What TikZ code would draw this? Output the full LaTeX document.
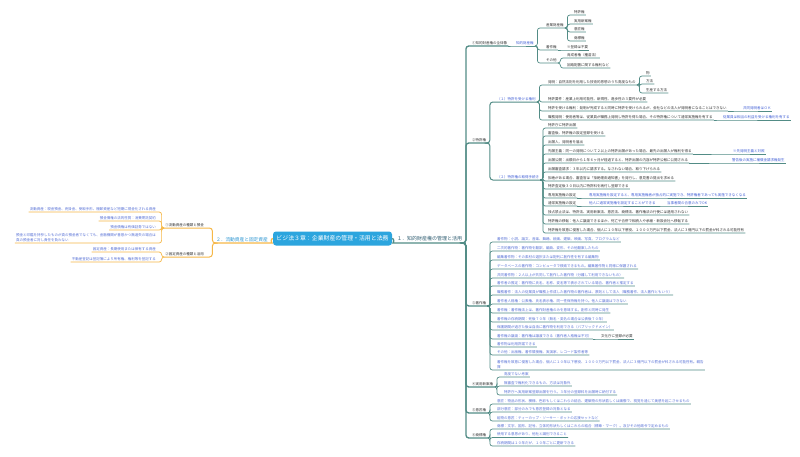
\documentclass[tikz,border=0pt]{standalone}
\usepackage{fontspec}
\setmainfont{Noto Sans CJK JP}
\definecolor{tl}{RGB}{82,140,134}
\definecolor{og}{RGB}{246,184,72}
\definecolor{bl}{RGB}{66,96,214}
\definecolor{bl2}{RGB}{86,112,214}
\definecolor{dk}{RGB}{50,50,50}
\definecolor{rootc}{RGB}{44,165,222}
\definecolor{r1c}{RGB}{50,95,115}
\definecolor{l1c}{RGB}{45,150,210}
\tikzset{
 lf/.style={font=\fontsize{3.5}{4.4}\selectfont, text=dk, inner xsep=1pt, inner ysep=1.4pt, anchor=south west, align=left},
 lfl/.style={lf, anchor=south east},
 bt/.style={text=bl},
 bx/.style={text=bl2},
 tln/.style={draw=tl, line width=0.7pt, rounded corners=2.5pt},
 tlm/.style={draw=tl, line width=1pt, rounded corners=3pt},
 tlt/.style={draw=tl, line width=1.3pt, rounded corners=3pt},
 ogn/.style={draw=og, line width=0.7pt, rounded corners=2.5pt},
 ogm/.style={draw=og, line width=1pt, rounded corners=3pt},
 ogt/.style={draw=og, line width=1.3pt, rounded corners=3pt},
 rootbox/.style={fill=rootc, text=white, rounded corners=3pt, minimum width=119pt, minimum height=14pt, inner sep=0pt, font=\fontsize{5.9}{6}\selectfont},
}
\newcommand\rconn[3][tln]{\draw[#1] (#2.south east) -- ++(2.5,0) |- (#3.south west) -- (#3.south east);}
\newcommand\lconn[3][ogn]{\draw[#1] (#2.south west) -- ++(-2.5,0) |- (#3.south east) -- (#3.south west);}
\newcommand\nconn[3][tln]{\draw[#1] (#2.south east) -- (#3.south west) -- (#3.south east);}
\begin{document}
\begin{tikzpicture}[x=1pt,y=-1pt]
\useasboundingbox (0,0) rectangle (800,456);
\fill[white] (0,0) rectangle (800,456);

% root and main branches
\node[rootbox] (root) at (332.5,238.5) {ビジ法３章：企業財産の管理・活用と法務};
\node[lf, font=\fontsize{5}{6}\selectfont, text=r1c] (r1) at (396,243) {１．知的財産権の管理と活用};
\node[lfl, font=\fontsize{4.7}{6}\selectfont, text=l1c] (l1) at (269,243) {２．流動資産と固定資産};

% ---------- right side ----------
\node[lf] (A) at (471,46) {①知的財産権の全体像};
\node[lf,bt] (A1) at (515,46) {知的財産権};
\node[lf] (A1a) at (545,28) {産業財産権};
\node[lf] (A1a1) at (573,15) {特許権};
\node[lf] (A1a2) at (573,24) {実用新案権};
\node[lf] (A1a3) at (573,32) {意匠権};
\node[lf] (A1a4) at (573,41) {商標権};
\node[lf] (A1b) at (545,50) {著作権};
\node[lf] (A1b1) at (566,50) {※登録は不要};
\node[lf] (A1c) at (545,63) {その他};
\node[lf] (A1c1) at (566,58) {育成者権（種苗法）};
\node[lf] (A1c2) at (566,68) {回路配置に関する権利など};

\node[lf] (B) at (471,143) {②特許権};
\node[lf,bt] (B1) at (496,102) {（１）特許を受ける権利};
\node[lf] (B1a) at (547,85) {発明：自然法則を利用した技術的思想のうち高度なもの};
\node[lf] (B1a1) at (645,76) {物};
\node[lf] (B1a2) at (645,84) {方法};
\node[lf] (B1a3) at (645,93) {生産する方法};
\node[lf] (B1b) at (547,102) {特許要件：産業上利用可能性、新規性、進歩性の３要件が必要};
\node[lf] (B1c) at (547,111) {特許を受ける権利：発明が完成すると同時に特許を受けられるが、会社などの法人が発明者になることはできない};
\node[lf,bt] (B1cn) at (742,111) {共同発明者はＯＫ};
\node[lf] (B1d) at (547,120) {職務発明：使用者等は、従業員が職務上発明し特許を得た場合、その特許権について通常実施権を有する};
\node[lf,bt] (B1dn) at (722,120) {従業員は相当の利益を受ける権利を有する};

\node[lf,bt] (B2) at (496,180) {（２）特許権の取得手続き};
\node[lf] (B2a) at (547,128) {特許庁に特許出願};
\node[lf] (B2b) at (547,136) {審査後、特許権の設定登録を受ける};
\node[lf] (B2c) at (547,145) {出願人、発明者を届出};
\node[lf] (B2d) at (547,154) {先願主義：同一の発明について２以上の特許出願があった場合、最先の出願人が権利を得る};
\node[lf,bt] (B2dn) at (732,154) {※先発明主義と対照};
\node[lf] (B2e) at (547,163) {出願公開：出願日から１年６ヶ月が経過すると、特許出願の内容が特許公報に公開される};
\node[lf,bt] (B2en) at (731,163) {警告後の実施に補償金請求権発生};
\node[lf] (B2f) at (547,172) {出願審査請求：３年以内に請求する。なされない場合、取り下げられる};
\node[lf] (B2g) at (547,181) {拒絶がある場合、審査官は「拒絶理由通知書」を発行し、意見書の提出を求める};
\node[lf] (B2h) at (547,189) {特許査定後３０日以内に特許料を納付し登録できる};
\node[lf] (B2i) at (547,198) {専用実施権の設定};
\node[lf,bt] (B2in) at (588,198) {専用実施権を設定すると、専用実施権者が独占的に実施でき、特許権者であっても実施できなくなる};
\node[lf] (B2j) at (547,206) {通常実施権の設定};
\node[lf,bt] (B2jn) at (588,206) {他人に通常実施権を設定することができる};
\node[lf,bt] (B2jm) at (666,206) {当事者間の合意のみでOK};
\node[lf] (B2k) at (547,215) {独占禁止法は、特許法、実用新案法、意匠法、商標法、著作権法の行使には適用されない};
\node[lf] (B2l) at (547,224) {特許権の移転：他人に譲渡できるほか、死亡や合併で相続人や承継・新設会社へ移転する};
\node[lf] (B2m) at (547,233) {特許権を故意に侵害した場合、個人に１０年以下懲役、１０００万円以下罰金、法人に３億円以下の罰金が科される可能性有};

\node[lf] (C) at (471,306) {③著作権};
\node[lf,bx] (C1) at (496,242) {著作物：小説、論文、音楽、舞踊、絵画、建築、映画、写真、プログラムなど};
\node[lf,bx] (C2) at (496,251) {二次的著作物：著作物を翻訳、編曲、変形、その他翻案したもの};
\node[lf,bx] (C3) at (496,260) {編集著作物：その素材の選択または配列に創作性を有する編集物};
\node[lf,bx] (C4) at (496,269) {データベースの著作物：コンピュータで検索できるもの。編集著作物と同様に保護される};
\node[lf,bx] (C5) at (496,278) {共同著作物：２人以上が共同して創作した著作物（分離して利用できないもの）};
\node[lf,bx] (C6) at (496,286) {著作者の推定：著作物に氏名、名称、変名等で表示されている場合、著作者と推定する};
\node[lf,bx] (C7) at (496,295) {職務著作：法人の従業員が職務上作成した著作物の著作者は、原則として法人（職務著作、法人著作ともいう）};
\node[lf,bx] (C8) at (496,304) {著作者人格権：公表権、氏名表示権、同一性保持権を持つ。他人に譲渡はできない};
\node[lf,bx] (C9) at (496,313) {著作権：著作権法上は、著作財産権のみを意味する。創作と同時に発生};
\node[lf,bx] (C10) at (496,322) {著作権の存続期間：死後７０年（無名・変名の場合は公表後７０年）};
\node[lf,bx] (C11) at (496,330) {保護期間が過ぎた後は自由に著作物を利用できる（パブリックドメイン）};
\node[lf,bx] (C12) at (496,339) {著作権の譲渡：著作権は譲渡できる（著作者人格権は不可）};
\node[lf] (C12n) at (600,339) {文化庁に登録が必要};
\node[lf,bx] (C13) at (496,347) {著作物は利用許諾できる};
\node[lf,bx] (C14) at (496,355) {その他：出版権、著作隣接権、実演家、レコード製作者等};
\node[lf,bx] (C15) at (496,370) {著作権を故意に侵害した場合、個人に１０年以下懲役、１０００万円以下罰金、法人に３億円以下の罰金が科される可能性有。親告\\罪};

\node[lf] (D) at (471,387) {④実用新案権};
\node[lf,bx] (D1) at (503,377) {高度でない考案};
\node[lf,bx] (D2) at (503,386) {無審査で権利化できるもの、方法は対象外};
\node[lf,bx] (D3) at (503,395) {特許庁へ実用新案登録出願を行う。３年分の登録料を出願時に納付する};

\node[lf] (E) at (471,413) {⑤意匠権};
\node[lf,bx] (E1) at (496,404) {意匠：物品の形状、模様、色彩もしくはこれらの結合、建築物の形状若しくは画像で、視覚を通じて美感を起こさせるもの};
\node[lf,bx] (E2) at (496,412) {部分意匠：部分のみでも意匠登録の対象となる};
\node[lf,bx] (E3) at (496,421) {組物の意匠：ティーカップ・ソーサー・ポットの応接セットなど};

\node[lf] (F) at (471,438) {⑥商標権};
\node[lf,bx] (F1) at (496,429) {商標：文字、図形、記号、立体的形状もしくはこれらの結合（標章・マーク）。及びその他政令で定めるもの};
\node[lf,bx] (F2) at (496,437.5) {使用する意思があり、他社と識別できること};
\node[lf,bx] (F3) at (496,446) {存続期間は１０年だが、１０年ごとに更新できる};

% ---------- left side ----------
\node[lfl] (L1) at (205,228) {①流動資産の種類と預金};
\node[lfl,bx] (LA1) at (157,212) {流動資産：現金預金、売掛金、受取手形、棚卸資産など短期に現金化される資産};
\node[lfl,bx] (LA2) at (157,221) {預金債権の法的性質：消費寄託契約};
\node[lfl,bx] (LA3) at (157,230) {預金債権は有価証券ではない};
\node[lfl,bx] (LA4) at (157,243) {預金と印鑑を持参したものが真の預金者でなくても、金融機関が善意かつ無過失の場合は\\真の預金者に対し責任を負わない};
\node[lfl] (L2) at (205,257) {②固定資産の種類と活用};
\node[lfl,bx] (LB1) at (157,252) {固定資産：長期使用または保有する資産};
\node[lfl,bx] (LB2) at (157,262) {不動産登記は登記簿により所有権、権利等を登記する};

% ---------- connectors right ----------
\draw[tlt] (root.east) to[out=0,in=180] (r1.south west) -- (r1.south east);
\rconn[tlt]{r1}{A} \rconn[tlt]{r1}{B} \rconn[tlt]{r1}{C}
\rconn[tlt]{r1}{D} \rconn[tlt]{r1}{E} \rconn[tlt]{r1}{F}
\nconn{A}{A1}
\rconn{A1}{A1a} \rconn{A1}{A1b} \rconn{A1}{A1c}
\rconn{A1a}{A1a1} \rconn{A1a}{A1a2} \rconn{A1a}{A1a3} \rconn{A1a}{A1a4}
\nconn{A1b}{A1b1}
\rconn{A1c}{A1c1} \rconn{A1c}{A1c2}
\rconn[tlm]{B}{B1} \rconn[tlm]{B}{B2}
\rconn{B1}{B1a} \rconn{B1}{B1b} \rconn{B1}{B1c} \rconn{B1}{B1d}
\rconn{B1a}{B1a1} \rconn{B1a}{B1a2} \rconn{B1a}{B1a3}
\nconn{B1c}{B1cn} \nconn{B1d}{B1dn}
\rconn{B2}{B2a} \rconn{B2}{B2b} \rconn{B2}{B2c} \rconn{B2}{B2d}
\rconn{B2}{B2e} \rconn{B2}{B2f} \rconn{B2}{B2g} \rconn{B2}{B2h}
\rconn{B2}{B2i} \rconn{B2}{B2j} \rconn{B2}{B2k} \rconn{B2}{B2l} \rconn{B2}{B2m}
\nconn{B2d}{B2dn} \nconn{B2e}{B2en} \nconn{B2i}{B2in} \nconn{B2j}{B2jn} \nconn{B2jn}{B2jm}
\rconn{C}{C1} \rconn{C}{C2} \rconn{C}{C3} \rconn{C}{C4} \rconn{C}{C5}
\rconn{C}{C6} \rconn{C}{C7} \rconn{C}{C8} \rconn{C}{C9} \rconn{C}{C10}
\rconn{C}{C11} \rconn{C}{C12} \rconn{C}{C13} \rconn{C}{C14} \rconn{C}{C15}
\nconn{C12}{C12n}
\rconn{D}{D1} \rconn{D}{D2} \rconn{D}{D3}
\rconn{E}{E1} \rconn{E}{E2} \rconn{E}{E3}
\rconn{F}{F1} \rconn{F}{F2} \rconn{F}{F3}

% ---------- connectors left ----------
\draw[ogt] (root.west) to[out=180,in=0] (l1.south east) -- (l1.south west);
\lconn[ogm]{l1}{L1} \lconn[ogm]{l1}{L2}
\lconn{L1}{LA1} \lconn{L1}{LA2} \lconn{L1}{LA3} \lconn{L1}{LA4}
\lconn{L2}{LB1} \lconn{L2}{LB2}
\end{tikzpicture}
\end{document}
